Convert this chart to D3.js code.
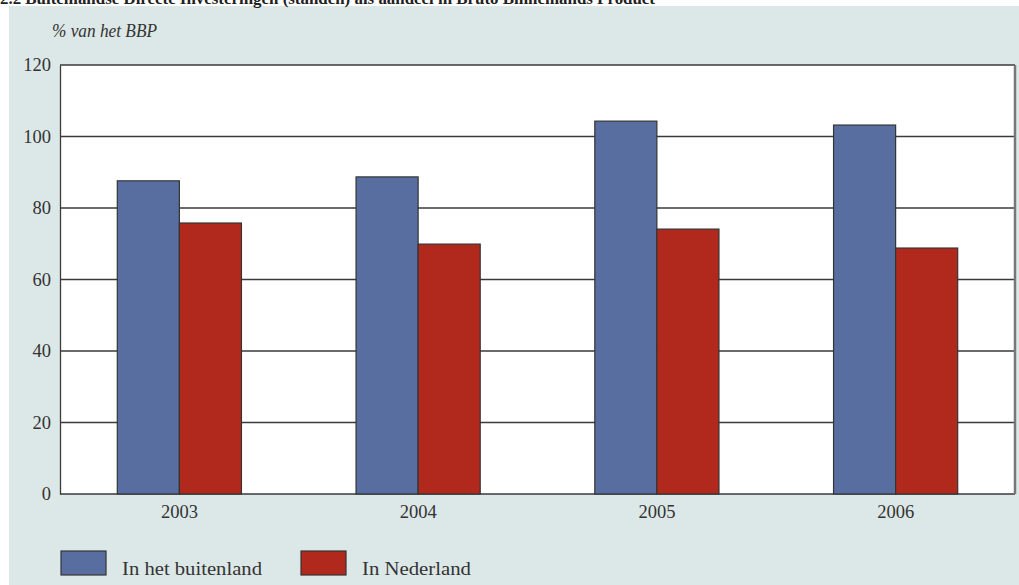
<!DOCTYPE html>
<html><head><meta charset="utf-8">
<script src="https://cdn.jsdelivr.net/npm/d3@7"></script>
<style>body{margin:0;background:#fff;}svg{display:block;font-family:"Liberation Serif","DejaVu Serif",serif;}</style>
</head><body>
<svg id="c" width="1019" height="585"></svg>
<script>
const categories = ["2003", "2004", "2005", "2006"];
const seriesNames = ["In het buitenland", "In Nederland"];
const buitenland = [87.6, 88.7, 104.3, 103.2];
const nederland = [75.8, 69.9, 74.1, 68.8];
const yTicks = [0, 20, 40, 60, 80, 100, 120];
const colors = ["#586ea0", "#b1281d"];

const svg = d3.select("#c");
svg.append("rect").attr("x", 9).attr("y", 6).attr("width", 1010).attr("height", 579).attr("fill", "#dce8e7");
svg.append("text").attr("x", 0).attr("y", 4).attr("font-size", 17).attr("font-weight", "bold").attr("fill", "#222")
  .attr("textLength", 655).attr("lengthAdjust", "spacingAndGlyphs")
  .text("2.2 Buitenlandse Directe Investeringen (standen) als aandeel in Bruto Binnenlands Product");

const m = {left: 60, right: 1015, top: 65, bottom: 494};
const x = d3.scaleBand().domain(categories).range([m.left, m.right]).paddingInner(0.48).paddingOuter(0.24);
const xs = d3.scaleBand().domain([0, 1]).range([0, x.bandwidth()]);
const y = d3.scaleLinear().domain([0, 120]).range([m.bottom, m.top]);

svg.append("rect").attr("x", m.left).attr("y", m.top).attr("width", m.right - m.left).attr("height", m.bottom - m.top).attr("fill", "#fff");

// gridlines
svg.append("g").selectAll("line").data(yTicks).join("line")
  .attr("x1", m.left).attr("x2", m.right).attr("y1", d => y(d)).attr("y2", d => y(d))
  .attr("stroke", "#3a3a3a").attr("stroke-width", 1.3);

// y axis
const ya = svg.append("g").attr("transform", `translate(${m.left},0)`)
  .call(d3.axisLeft(y).tickValues(yTicks).tickSize(0).tickPadding(9));
ya.select(".domain").attr("stroke", "#3a3a3a").attr("stroke-width", 1.3);
ya.selectAll("text").attr("font-size", 18.5).attr("fill", "#333").attr("font-family", "Liberation Serif, serif");

// right border
svg.append("line").attr("x1", m.right).attr("x2", m.right).attr("y1", m.top).attr("y2", m.bottom)
  .attr("stroke", "#777").attr("stroke-width", 2.5);

// bars
const data = categories.map((c, i) => ({c, vals: [buitenland[i], nederland[i]]}));
const g = svg.append("g").selectAll("g").data(data).join("g").attr("transform", d => `translate(${x(d.c)},0)`);
g.selectAll("rect").data(d => d.vals.map((v, k) => ({v, k}))).join("rect")
  .attr("x", d => xs(d.k)).attr("width", xs.bandwidth())
  .attr("y", d => y(d.v)).attr("height", d => y(0) - y(d.v))
  .attr("fill", d => colors[d.k]).attr("stroke", "#333").attr("stroke-width", 1.2);

// x axis
const xa = svg.append("g").attr("transform", `translate(0,${m.bottom})`)
  .call(d3.axisBottom(x).tickSize(0).tickPadding(11));
xa.select(".domain").remove();
xa.selectAll("text").attr("font-size", 18.5).attr("fill", "#333").attr("font-family", "Liberation Serif, serif");

// unit label
svg.append("text").attr("x", 52).attr("y", 37).attr("font-size", 18).attr("font-style", "italic").attr("fill", "#333")
  .attr("textLength", 105).attr("lengthAdjust", "spacingAndGlyphs").text("% van het BBP");

// legend
const lx = [61, 301];
const lw = [140, 109];
const lg = svg.append("g").selectAll("g").data(seriesNames).join("g").attr("transform", (d, i) => `translate(${lx[i]},551)`);
lg.append("rect").attr("width", 45).attr("height", 24).attr("fill", (d, i) => colors[i]).attr("stroke", "#333").attr("stroke-width", 1.2);
lg.append("text").attr("x", 61).attr("y", 24).attr("font-size", 19).attr("fill", "#333")
  .attr("textLength", (d, i) => lw[i]).attr("lengthAdjust", "spacingAndGlyphs").text(d => d);
</script>
</body></html>
